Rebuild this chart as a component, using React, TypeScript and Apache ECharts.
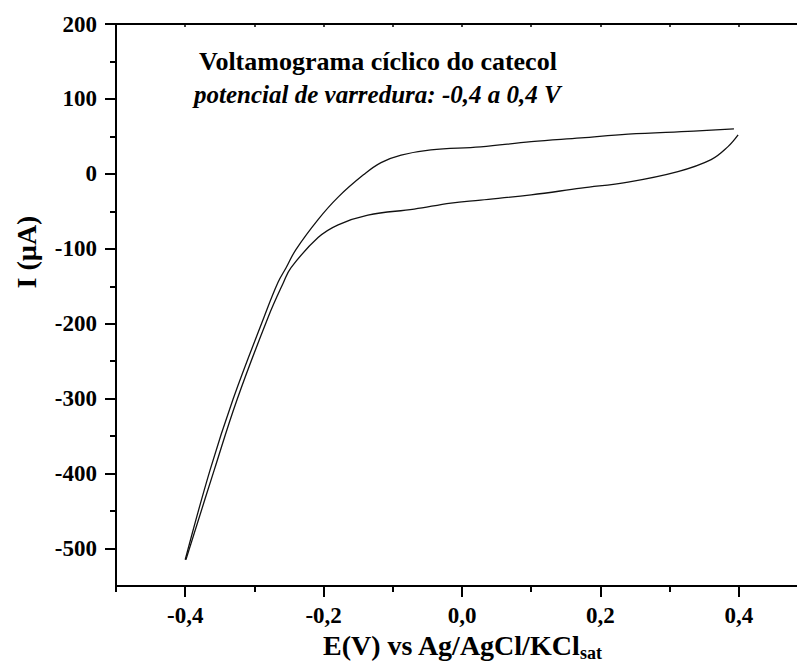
import React, { useEffect, useRef } from 'react';
import * as echarts from 'echarts';

// Forward scan (upper branch), E in V, I in µA
const forwardE = [-0.400, -0.364, -0.331, -0.286, -0.266, -0.254, -0.240, -0.208, -0.179, -0.142, -0.117, -0.088, -0.045, 0.027, 0.100, 0.172, 0.240, 0.335, 0.393];
const forwardI = [-515, -395, -301, -191, -145, -125, -101, -61, -31, -1, 15, 25, 32, 36, 43, 48, 53, 57, 60];
// Reverse scan (lower branch)
const reverseE = [0.399, 0.384, 0.360, 0.312, 0.240, 0.172, 0.100, 0.027, -0.016, -0.069, -0.136, -0.179, -0.208, -0.247, -0.258, -0.280, -0.325, -0.358, -0.399];
const reverseI = [52, 36, 19, 3, -11, -19, -28, -35, -39, -47, -55, -68, -85, -125, -145, -191, -301, -395, -515];

const xMajorTicks = [-0.4, -0.2, 0, 0.2, 0.4];
const xMinorTicks = [-0.5, -0.3, -0.1, 0.1, 0.3, 0.5];
const xTopTicks = [-0.5, -0.4, -0.3, -0.2, -0.1, 0, 0.1, 0.2, 0.3, 0.4, 0.5];
const yMajorTicks = [-500, -400, -300, -200, -100, 0, 100, 200];
const yMinorTicks = [-450, -350, -250, -150, -50, 50, 150];

const titleLine1 = 'Voltamograma cíclico do catecol';
const titleLine2 = 'potencial de varredura: -0,4 a 0,4 V';
const xTitle = 'E(V) vs Ag/AgCl/KCl';
const xTitleSub = 'sat';
const yTitle = 'I (µA)';

const FONT = '"Liberation Serif", "Times New Roman", serif';

export default function App() {
  const ref = useRef<HTMLDivElement>(null);
  useEffect(() => {
    if (!ref.current) return;
    const chart = echarts.init(ref.current, undefined, { renderer: 'svg' });
    const fwd = forwardE.map((e, i) => [e, forwardI[i]]);
    const rev = reverseE.map((e, i) => [e, reverseI[i]]);
    const black = '#000';
    const hidden = { show: false };
    chart.setOption({
      animation: false,
      backgroundColor: '#fff',
      grid: { left: 116, top: 24, right: 0, bottom: 78, containLabel: false },
      xAxis: [
        {
          type: 'value', position: 'bottom', min: -0.5, max: 0.5,
          axisLine: { show: true, onZero: false, lineStyle: { color: black, width: 2 } },
          axisTick: { show: true, customValues: xMajorTicks, length: 11, lineStyle: { color: black, width: 2 } },
          axisLabel: {
            show: true, customValues: xMajorTicks, margin: 18, fontSize: 23, fontWeight: 'bold',
            fontFamily: FONT, color: black,
            formatter: (v: number) => v.toFixed(1).replace('.', ','),
          },
          splitLine: hidden,
        },
        {
          type: 'value', position: 'bottom', min: -0.5, max: 0.5,
          axisLine: { show: false, onZero: false },
          axisTick: { show: true, customValues: xMinorTicks, length: 6, lineStyle: { color: black, width: 2 } },
          axisLabel: hidden, splitLine: hidden,
        },
        {
          type: 'value', position: 'top', min: -0.5, max: 0.5,
          axisLine: { show: true, onZero: false, lineStyle: { color: black, width: 2 } },
          axisTick: { show: true, inside: true, customValues: xTopTicks, length: 3, lineStyle: { color: black, width: 1.5 } },
          axisLabel: hidden, splitLine: hidden,
        },
      ],
      yAxis: [
        {
          type: 'value', position: 'left', min: -550, max: 200,
          axisLine: { show: true, onZero: false, lineStyle: { color: black, width: 2 } },
          axisTick: { show: true, customValues: yMajorTicks, length: 11, lineStyle: { color: black, width: 2 } },
          axisLabel: {
            show: true, customValues: yMajorTicks, margin: 19, fontSize: 23, fontWeight: 'bold',
            fontFamily: FONT, color: black,
            formatter: (v: number) => String(Math.round(v)),
          },
          splitLine: hidden,
        },
        {
          type: 'value', position: 'left', min: -550, max: 200,
          axisLine: { show: false, onZero: false },
          axisTick: { show: true, customValues: yMinorTicks, length: 6, lineStyle: { color: black, width: 2 } },
          axisLabel: hidden, splitLine: hidden,
        },
      ],
      series: [
        {
          type: 'line', name: 'forward', data: fwd, xAxisIndex: 0, yAxisIndex: 0,
          smooth: 0.4, showSymbol: false, symbol: 'none',
          lineStyle: { color: '#111', width: 1.3 },
        },
        {
          type: 'line', name: 'reverse', data: rev, xAxisIndex: 0, yAxisIndex: 0,
          smooth: 0.4, showSymbol: false, symbol: 'none',
          lineStyle: { color: '#111', width: 1.3 },
        },
      ],
      graphic: [
        {
          type: 'text', x: 199, y: 61,
          style: {
            text: titleLine1, fill: black, font: `bold 26px ${FONT}`,
            align: 'left', textAlign: 'left', verticalAlign: 'middle', textVerticalAlign: 'middle',
          },
        },
        {
          type: 'text', x: 194, y: 94,
          style: {
            text: titleLine2, fill: black, font: `italic bold 25px ${FONT}`,
            align: 'left', textAlign: 'left', verticalAlign: 'middle', textVerticalAlign: 'middle',
          },
        },
        {
          type: 'text', x: 26, y: 252, rotation: Math.PI / 2,
          style: {
            text: yTitle, fill: black, font: `bold 28px ${FONT}`,
            align: 'center', textAlign: 'center', verticalAlign: 'middle', textVerticalAlign: 'middle',
          },
        },
        {
          type: 'text', x: 323, y: 645,
          style: {
            text: xTitle, fill: black, font: `bold 28px ${FONT}`,
            align: 'left', textAlign: 'left', verticalAlign: 'middle', textVerticalAlign: 'middle',
          },
        },
        {
          type: 'text', x: 580, y: 653,
          style: {
            text: xTitleSub, fill: black, font: `bold 18px ${FONT}`,
            align: 'left', textAlign: 'left', verticalAlign: 'middle', textVerticalAlign: 'middle',
          },
        },
      ],
    });
    return () => chart.dispose();
  }, []);
  return (
    <div
      ref={ref}
      style={{ position: 'fixed', left: 0, top: 0, width: 808, height: 664, background: '#fff' }}
    />
  );
}
